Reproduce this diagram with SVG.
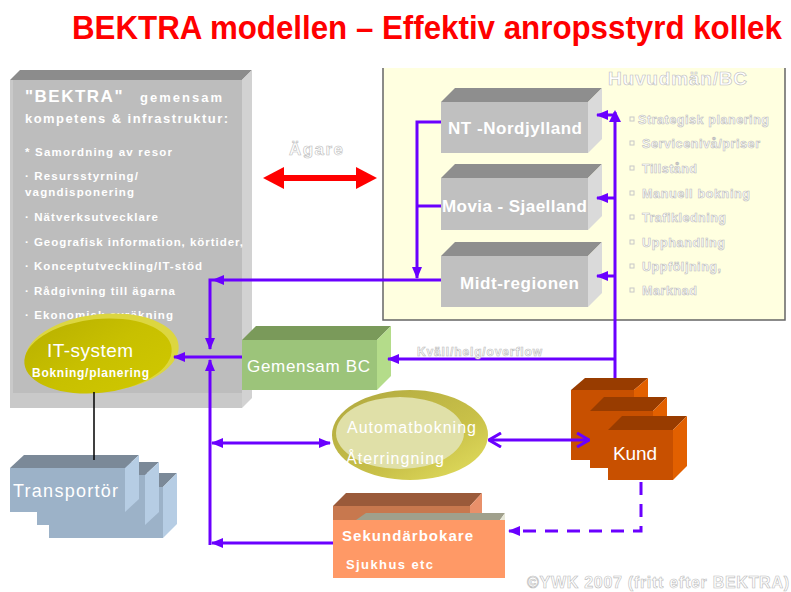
<svg xmlns="http://www.w3.org/2000/svg" width="791" height="592" viewBox="0 0 791 592">
<style>
  text { font-family: "Liberation Sans", Arial, sans-serif; }
  .wb { fill: #ffffff; font-weight: bold; }
  .w { fill: #ffffff; }
  .ol { fill: #ffffff; stroke: #bcbcbc; stroke-width: 0.6; font-weight: bold; }
  .lb { fill: #ffffff; font-weight: bold; font-size: 11.5px; }
  .rb { font-size: 12.5px; }
  .con { fill: none; stroke: #6a00ff; stroke-width: 3; }
  .gf { fill: #c0c0c0; } .gt { fill: #8e8e8e; } .gs { fill: #dadada; }
  .kf { fill: #c85000; } .kt { fill: #983c00; } .ks { fill: #e26000; }
  .tf { fill: #9cb2c8; } .tt { fill: #7b8998; } .ts { fill: #b6cde4; }
  .sq { fill: none; stroke: #c8c8c8; stroke-width: 1; }
</style>
<defs>
  <marker id="ah" viewBox="0 0 12 10" refX="11" refY="5" markerWidth="12" markerHeight="10" markerUnits="userSpaceOnUse" orient="auto-start-reverse">
    <path d="M0,0 L12,5 L0,10 Z" fill="#6a00ff"/>
  </marker>
  <marker id="ch" viewBox="0 0 14 16" refX="13" refY="8" markerWidth="14" markerHeight="16" markerUnits="userSpaceOnUse" orient="auto-start-reverse">
    <path d="M1,1 L13,8 L1,15" fill="none" stroke="#6a00ff" stroke-width="3"/>
  </marker>
  <linearGradient id="itg" x1="0" y1="0" x2="1" y2="1">
    <stop offset="0" stop-color="#b8b000"/>
    <stop offset="0.5" stop-color="#c8c000"/>
    <stop offset="1" stop-color="#d0c800"/>
  </linearGradient>
  <linearGradient id="aug" x1="0" y1="0" x2="1" y2="1">
    <stop offset="0" stop-color="#b0a840"/>
    <stop offset="0.6" stop-color="#c8c048"/>
    <stop offset="1" stop-color="#e4e060"/>
  </linearGradient>
</defs>

<text x="72" y="36.1" font-size="31.3" font-weight="bold" fill="#ff0000" transform="scale(1,1.08)">BEKTRA modellen – Effektiv anropsstyrd kollek</text>

<!-- Left BEKTRA box -->
<g id="bektra">
  <polygon points="10,80 20,70 252,70 242,80" fill="#8c8c8c"/>
  <polygon points="242,80 252,70 252,398 242,408" fill="#d2d2d2"/>
  <rect x="10" y="80" width="232" height="328" fill="#bdbdbd"/>
  <rect x="10" y="393" width="232" height="15" fill="#c9c9c9"/>
  <rect x="10" y="80" width="3" height="328" fill="#c9c9c9"/>
  <text x="25" y="102" class="wb" font-size="17" letter-spacing="1.5">"BEKTRA"</text>
  <text x="140" y="102" class="wb" font-size="13" textLength="82">gemensam</text>
  <text x="25" y="123" class="wb" font-size="13" textLength="203">kompetens &amp; infrastruktur:</text>
  <text x="25" y="156" class="lb" textLength="147">* Samordning av resor</text>
  <text x="25" y="180" class="lb" textLength="113">· Resursstyrning/</text>
  <text x="25" y="196" class="lb" textLength="109">vagndisponering</text>
  <text x="25" y="221" class="lb" textLength="133">· Nätverksutvecklare</text>
  <text x="25" y="246" class="lb" textLength="218">· Geografisk information, körtider,</text>
  <text x="25" y="270" class="lb" textLength="177">· Konceptutveckling/IT-stöd</text>
  <text x="25" y="295" class="lb" textLength="150">· Rådgivning till ägarna</text>
  <text x="25" y="319" class="lb" textLength="148">· Ekonomisk avräkning</text>
</g>

<!-- Huvudmän panel -->
<g id="huvudman">
  <rect x="383" y="68" width="402" height="252" fill="#ffffe0"/>
  <path d="M383,68 V320 H785 V68" fill="none" stroke="#666666" stroke-width="1.5"/>
  <text x="608" y="85" class="ol" font-size="19" textLength="139">Huvudmän/BC</text>
  <g class="rb">
    <rect x="630" y="117" width="4" height="4" class="sq"/>
    <text x="638" y="124" class="ol" textLength="131">Strategisk planering</text>
    <rect x="630" y="141" width="4" height="4" class="sq"/>
    <text x="642" y="148" class="ol" textLength="118">Servicenivå/priser</text>
    <rect x="630" y="166" width="4" height="4" class="sq"/>
    <text x="642" y="173" class="ol" textLength="55">Tillstånd</text>
    <rect x="630" y="191" width="4" height="4" class="sq"/>
    <text x="642" y="198" class="ol" textLength="108">Manuell bokning</text>
    <rect x="630" y="215" width="4" height="4" class="sq"/>
    <text x="642" y="222" class="ol" textLength="84">Trafikledning</text>
    <rect x="630" y="240" width="4" height="4" class="sq"/>
    <text x="642" y="247" class="ol" textLength="83">Upphandling</text>
    <rect x="630" y="264" width="4" height="4" class="sq"/>
    <text x="642" y="271" class="ol" textLength="79">Uppföljning,</text>
    <rect x="630" y="288" width="4" height="4" class="sq"/>
    <text x="642" y="295" class="ol" textLength="55">Marknad</text>
  </g>
</g>

<g id="nt">
  <polygon points="441,102 455,88 602,88 588,102" class="gt"/>
  <polygon points="588,102 602,88 602,139 588,153" class="gs"/>
  <rect x="441" y="102" width="147" height="51" class="gf"/>
  <text x="448" y="134" class="wb" font-size="17" textLength="134">NT -Nordjylland</text>
</g>
<g id="movia">
  <polygon points="441,178 455,164 602,164 588,178" class="gt"/>
  <polygon points="588,178 602,164 602,216 588,230" class="gs"/>
  <rect x="441" y="178" width="147" height="52" class="gf"/>
  <text x="442" y="212" class="wb" font-size="17" textLength="145">Movia - Sjaelland</text>
</g>
<g id="midt">
  <polygon points="441,256 455,242 602,242 588,256" class="gt"/>
  <polygon points="588,256 602,242 602,293 588,307" class="gs"/>
  <rect x="441" y="256" width="147" height="51" class="gf"/>
  <text x="460" y="289" class="wb" font-size="17" textLength="119">Midt-regionen</text>
</g>

<g id="agare">
  <text x="289" y="155" class="ol" font-size="17" font-weight="normal" textLength="54">Ägare</text>
  <path d="M282,178 H357" stroke="#ff0000" stroke-width="6" fill="none"/>
  <polygon points="263,178 284,167 284,189" fill="#ff0000"/>
  <polygon points="377,178 356,167 356,189" fill="#ff0000"/>
</g>

<g id="itsystem">
  <ellipse cx="102" cy="353" rx="77" ry="39" fill="#dcd640" transform="rotate(-6 102 353)"/>
  <ellipse cx="98" cy="356" rx="74" ry="37" fill="url(#itg)" transform="rotate(-6 98 356)"/>
  <text x="47" y="357" class="w" font-size="19" textLength="86">IT-system</text>
  <text x="32" y="377" class="wb" font-size="12" textLength="117">Bokning/planering</text>
</g>

<g id="gemensambc">
  <polygon points="242,340 256,326 391,326 377,340" fill="#7a9a5a"/>
  <polygon points="377,340 391,326 391,376 377,390" fill="#b4dc8a"/>
  <rect x="242" y="340" width="135" height="50" fill="#9cc47a"/>
  <text x="247" y="372" class="w" font-size="17" textLength="123">Gemensam BC</text>
</g>

<g id="transportor">
  <polygon points="49,487 63,473 177,473 163,487" class="tt"/>
  <polygon points="163,487 177,473 177,524 163,538" class="ts"/>
  <rect x="49" y="487" width="114" height="51" class="tf"/>
  <polygon points="37,475 51,462 159,462 145,475" class="tt"/>
  <polygon points="145,475 159,462 159,512 145,525" class="ts"/>
  <rect x="37" y="475" width="108" height="50" class="tf"/>
  <polygon points="10,468 24,455 139,455 125,468" class="tt"/>
  <polygon points="125,468 139,455 139,499 125,512" class="ts"/>
  <rect x="10" y="468" width="115" height="44" class="tf"/>
  <text x="13" y="497" class="w" font-size="18" textLength="105">Transportör</text>
</g>

<g id="automat">
  <ellipse cx="410" cy="435" rx="78" ry="45" fill="url(#aug)"/>
  <ellipse cx="400" cy="433" rx="64" ry="36" fill="#e0e0a8"/>
  <text x="347" y="433" class="w" font-size="16" textLength="129">Automatbokning</text>
  <text x="346" y="464" class="w" font-size="16" textLength="98">Återringning</text>
</g>

<g id="kund">
  <polygon points="571,390 585,378 648,378 634,390" class="kt"/>
  <polygon points="634,390 648,378 648,448 634,460" class="ks"/>
  <rect x="571" y="390" width="63" height="70" class="kf"/>
  <polygon points="590,411 604,397 667,397 653,411" class="kt"/>
  <polygon points="653,411 667,397 667,455 653,468" class="ks"/>
  <rect x="590" y="411" width="63" height="57" class="kf"/>
  <polygon points="608,430 622,416 687,416 673,430" class="kt"/>
  <polygon points="673,430 687,416 687,466 673,480" class="ks"/>
  <rect x="608" y="430" width="65" height="50" class="kf"/>
  <text x="613" y="460" class="w" font-size="19" textLength="44">Kund</text>
</g>

<g id="sekundar">
  <polygon points="333,506 346,493 482,493 470,506" fill="#9a5a3a"/>
  <polygon points="470,506 482,493 482,520 470,520" fill="#e8906a"/>
  <rect x="333" y="506" width="137" height="14" fill="#c8784e"/>
  <polygon points="356,520 366,513 505,513 500,520" fill="#a0a08c"/>
  <polygon points="500,520 505,513 505,520" fill="#e8e8d8"/>
  <rect x="333" y="520" width="172" height="58" fill="#ff9966"/>
  <text x="342" y="541" class="wb" font-size="15" textLength="131">Sekundärbokare</text>
  <text x="346" y="569" class="wb" font-size="13" textLength="87">Sjukhus etc</text>
</g>

<g id="connectors">
  <path class="con" d="M441,122 H417 V278" marker-end="url(#ah)"/>
  <path class="con" d="M441,206 H417"/>
  <path class="con" d="M441,280 H210 V349" marker-end="url(#ah)"/>
  <path d="M212,280 L224,275 L224,285 Z" fill="#6a00ff"/>
  <path class="con" d="M242,357 H174" marker-end="url(#ah)"/>
  <path class="con" d="M210,545 V360" marker-end="url(#ah)"/>
  <path class="con" d="M333,543 H212" marker-end="url(#ah)"/>
  <path class="con" d="M212,443 H330" marker-start="url(#ah)" marker-end="url(#ah)"/>
  <path class="con" d="M489,440 H589" marker-start="url(#ch)" marker-end="url(#ch)"/>
  <path class="con" d="M615,378 V112"/>
  <path d="M615,110 L609,122 L621,122 Z" fill="#6a00ff"/>
  <path class="con" d="M615,115 H597" marker-end="url(#ah)"/>
  <path class="con" d="M615,198 H597" marker-end="url(#ah)"/>
  <path class="con" d="M615,276 H597" marker-end="url(#ah)"/>
  <path class="con" d="M615,359 H388" marker-end="url(#ah)"/>
  <path class="con" d="M641,482 V531 H509" stroke-dasharray="13,9" marker-end="url(#ah)"/>
  <path d="M94,392 V460" stroke="#000000" stroke-width="1.5" fill="none"/>
</g>

<text x="417" y="356" class="ol" font-size="12" textLength="125">Kväll/helg/overflow</text>
<text x="527" y="588" class="ol" font-size="16" font-weight="normal" textLength="262">©YWK 2007 (fritt efter BEKTRA)</text>
</svg>
